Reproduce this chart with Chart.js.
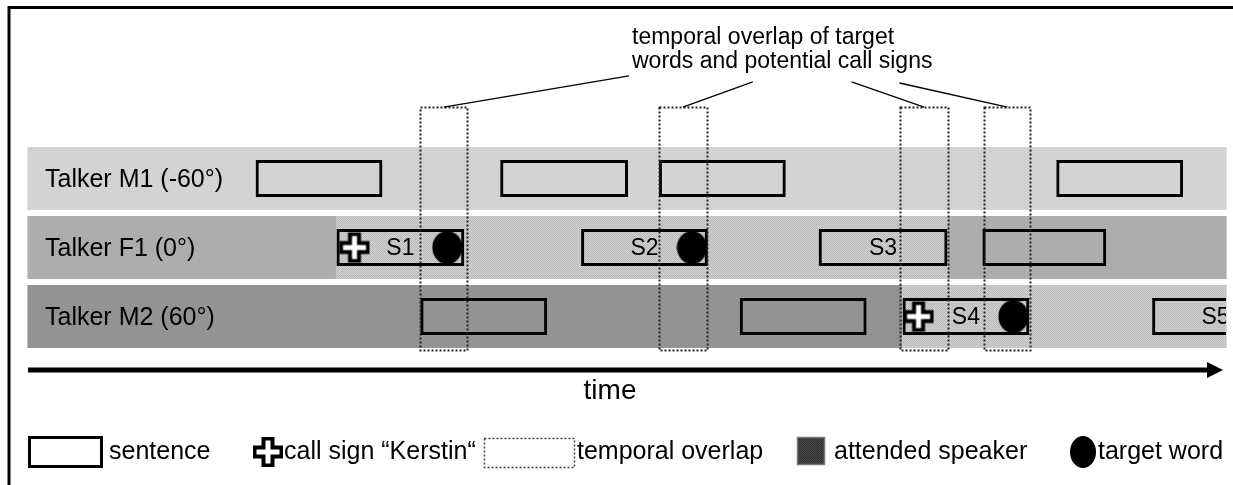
<!DOCTYPE html>
<html>
<head>
<meta charset="utf-8">
<script src="https://cdn.jsdelivr.net/npm/chart.js@4.4.1/dist/chart.umd.min.js"></script>
<style>
html,body{margin:0;padding:0;background:#fff;}
#wrap{position:relative;width:1233px;height:485px;}
</style>
</head>
<body>
<div id="wrap"><canvas id="c"></canvas></div>
<script>
// ---------------- data (time in seconds, rows 0..2) ----------------
const talkers = ['Talker M1 (-60°)', 'Talker F1 (0°)', 'Talker M2 (60°)'];
const timeMax = 12;

// background bands per talker (attended = being listened to)
const bandRow      = [0, 1, 1, 1, 2, 2];
const bandStart    = [0, 0, 3.09, 9.22, 0, 8.76];
const bandEnd      = [12, 3.09, 9.22, 12, 8.76, 12];
const bandAttended = [false, false, true, false, false, true];

// sentences
const sentenceRow   = [0, 0, 0, 0, 1, 1, 1, 1, 2, 2, 2, 2];
const sentenceStart = [2.28, 4.73, 6.32, 10.30, 3.09, 5.54, 7.92, 9.56, 3.93, 7.13, 8.76, 11.26];
const sentenceEnd   = [3.55, 6.01, 7.59, 11.57, 4.37, 6.81, 9.21, 10.80, 5.20, 8.40, 10.03, 12.53];
const sentenceLabel = ['', '', '', '', 'S1', 'S2', 'S3', '', '', '', 'S4', 'S5'];

// call signs "Kerstin"
const callSignTime = [3.27, 8.92];
const callSignRow  = [1, 2];

// target words
const targetTime = [4.20, 6.65, 9.87];
const targetRow  = [1, 1, 2];

// temporal overlap windows
const overlapStart = [3.93, 6.32, 8.73, 9.58];
const overlapEnd   = [4.40, 6.80, 9.22, 10.04];

const annotationText = ['temporal overlap of target', 'words and potential call signs'];
const axisLabel = 'time';
const legendLabels = ['sentence', 'call sign \u201CKerstin\u201C', 'temporal overlap', 'attended speaker', 'target word'];

// ---------------- styles ----------------
const FONT = '"Liberation Sans", Arial, Helvetica, sans-serif';
const rowColors = ['#d3d3d3', '#adadad', '#939393'];

function makePattern(c1, c2) {
  const cv = document.createElement('canvas');
  cv.width = 2; cv.height = 2;
  const g = cv.getContext('2d');
  g.fillStyle = c1; g.fillRect(0, 0, 2, 2);
  g.fillStyle = c2; g.fillRect(0, 0, 1, 1); g.fillRect(1, 1, 1, 1);
  return g.createPattern(cv, 'repeat');
}
const attendedPattern = makePattern('#cfcfcf', '#bcbcbc');
const legendPattern = makePattern('#4a4a4a', '#2e2e2e');

function crossPath(g, cx, cy, a, h) {
  g.beginPath();
  g.moveTo(cx - a, cy - h); g.lineTo(cx + a, cy - h); g.lineTo(cx + a, cy - a);
  g.lineTo(cx + h, cy - a); g.lineTo(cx + h, cy + a); g.lineTo(cx + a, cy + a);
  g.lineTo(cx + a, cy + h); g.lineTo(cx - a, cy + h); g.lineTo(cx - a, cy + a);
  g.lineTo(cx - h, cy + a); g.lineTo(cx - h, cy - a); g.lineTo(cx - a, cy - a);
  g.closePath();
}
function drawCross(g, cx, cy) {
  crossPath(g, cx, cy, 6.5, 15);
  g.fillStyle = '#000'; g.fill();
  crossPath(g, cx, cy, 2.5, 11.5);
  g.fillStyle = '#fff'; g.fill();
}
function makeCrossCanvas() {
  const cv = document.createElement('canvas');
  cv.width = 32; cv.height = 32;
  drawCross(cv.getContext('2d'), 16, 16);
  return cv;
}
function makeDotCanvas(w, h) {
  const cv = document.createElement('canvas');
  cv.width = w; cv.height = h;
  const g = cv.getContext('2d');
  g.beginPath(); g.ellipse(w / 2, h / 2, w / 2 - 0.5, h / 2 - 0.5, 0, 0, Math.PI * 2);
  g.fillStyle = '#000'; g.fill();
  return cv;
}
const crossImg = makeCrossCanvas();
const dotImg = makeDotCanvas(31, 34);

// ---------------- plugin for the non-data decoration ----------------
const diagramPlugin = {
  id: 'diagram',
  afterDatasetsDraw(chart, args, o) {
    const ctx = chart.ctx;
    const xs = chart.scales.x, ys = chart.scales.y;
    const X = v => xs.getPixelForValue(v);
    const Y = v => ys.getPixelForValue(v);

    // frame
    ctx.save();
    ctx.strokeStyle = '#000'; ctx.lineWidth = 3;
    ctx.beginPath();
    ctx.moveTo(9, chart.height); ctx.lineTo(9, 7.5); ctx.lineTo(chart.width, 7.5);
    ctx.stroke();
    ctx.restore();

    // talker labels
    ctx.save();
    ctx.font = '25px ' + FONT; ctx.fillStyle = '#000';
    ctx.textAlign = 'left'; ctx.textBaseline = 'middle';
    talkers.forEach((t, i) => ctx.fillText(t, X(0) + o.rowLabelInset, Y(i) + 2));
    ctx.restore();

    // sentence labels (clipped to band end)
    ctx.save();
    ctx.beginPath(); ctx.rect(0, 0, X(timeMax), chart.height); ctx.clip();
    ctx.font = '23px ' + FONT; ctx.fillStyle = '#000';
    ctx.textAlign = 'center'; ctx.textBaseline = 'middle';
    sentenceLabel.forEach((l, i) => {
      if (l) ctx.fillText(l, X((sentenceStart[i] + sentenceEnd[i]) / 2), Y(sentenceRow[i]) + 1);
    });
    ctx.restore();

    // temporal overlap windows (dotted)
    ctx.save();
    ctx.strokeStyle = '#222'; ctx.lineWidth = 2; ctx.setLineDash([2, 2]);
    overlapStart.forEach((s, i) => {
      const x0 = Math.round(X(s)) + 0.5, x1 = Math.round(X(overlapEnd[i])) + 0.5;
      const y0 = Math.round(Y(o.overlapTop)) + 0.5, y1 = Math.round(Y(o.overlapBottom)) + 0.5;
      ctx.strokeRect(x0, y0, x1 - x0, y1 - y0);
    });
    ctx.restore();

    // leader lines to annotation
    ctx.save();
    ctx.strokeStyle = '#000'; ctx.lineWidth = 1.3;
    overlapStart.forEach((s, i) => {
      const a = o.leaderEnds[i];
      ctx.beginPath();
      ctx.moveTo(X((s + overlapEnd[i]) / 2), Y(o.overlapTop));
      ctx.lineTo(X(a[0]), Y(a[1]));
      ctx.stroke();
    });
    ctx.restore();

    // annotation text
    ctx.save();
    ctx.font = '23px ' + FONT; ctx.fillStyle = '#000';
    ctx.textAlign = 'left'; ctx.textBaseline = 'alphabetic';
    annotationText.forEach((t, i) => ctx.fillText(t, X(o.annotationX), Y(o.annotationY[i])));
    ctx.restore();

    // time axis arrow
    ctx.save();
    const ay = Y(o.arrowY);
    const tip = X(o.arrowTip);
    ctx.strokeStyle = '#000'; ctx.fillStyle = '#000'; ctx.lineWidth = 5;
    ctx.beginPath(); ctx.moveTo(X(0), ay); ctx.lineTo(tip - 14, ay); ctx.stroke();
    ctx.beginPath(); ctx.moveTo(tip, ay); ctx.lineTo(tip - 16, ay - 8); ctx.lineTo(tip - 16, ay + 8); ctx.closePath(); ctx.fill();
    ctx.font = '28px ' + FONT; ctx.textAlign = 'center'; ctx.textBaseline = 'alphabetic';
    ctx.fillText(axisLabel, X(o.axisLabelX), Y(o.axisLabelY));
    ctx.restore();

    // legend
    ctx.save();
    const ly = o.legendY;
    ctx.font = '25px ' + FONT; ctx.fillStyle = '#000';
    ctx.textAlign = 'left'; ctx.textBaseline = 'middle';
    ctx.strokeStyle = '#000'; ctx.lineWidth = 3;
    ctx.strokeRect(29.5, ly - 14.5, 72, 29);
    ctx.fillText(legendLabels[0], 109, ly);
    drawCross(ctx, 268, ly);
    ctx.fillStyle = '#000';
    ctx.fillText(legendLabels[1], 284, ly);
    ctx.strokeStyle = '#444'; ctx.lineWidth = 1.5; ctx.setLineDash([2, 2]);
    ctx.strokeRect(484.5, ly - 13.5, 90, 29);
    ctx.setLineDash([]);
    ctx.fillText(legendLabels[2], 577, ly);
    ctx.fillStyle = legendPattern; ctx.fillRect(797, ly - 15, 28, 28);
    ctx.strokeStyle = '#777'; ctx.lineWidth = 1.5; ctx.strokeRect(797.5, ly - 14.5, 27, 27);
    ctx.fillStyle = '#000';
    ctx.fillText(legendLabels[3], 834, ly);
    ctx.beginPath(); ctx.ellipse(1083, ly, 13, 16, 0, 0, Math.PI * 2); ctx.fill();
    ctx.fillText(legendLabels[4], 1098, ly);
    ctx.restore();
  }
};

// ---------------- chart ----------------
const bandData = bandRow.map((r, i) => ({ x: [bandStart[i], bandEnd[i]], y: r }));
const bandColors = bandRow.map((r, i) => bandAttended[i] ? attendedPattern : rowColors[r]);
const sentenceData = sentenceRow.map((r, i) => ({ x: [sentenceStart[i], sentenceEnd[i]], y: r }));
const callSignData = callSignTime.map((t, i) => ({ x: t, y: callSignRow[i] }));
const targetData = targetTime.map((t, i) => ({ x: t, y: targetRow[i] }));

new Chart(document.getElementById('c'), {
  type: 'bar',
  data: {
    datasets: [
      {
        label: 'talker bands', type: 'bar', indexAxis: 'y', data: bandData,
        backgroundColor: bandColors, borderWidth: 0, barThickness: 62,
        grouped: false, order: 10, inflateAmount: 0.6
      },
      {
        label: 'sentence', type: 'bar', indexAxis: 'y', data: sentenceData,
        backgroundColor: 'rgba(0,0,0,0)', borderColor: '#000', borderWidth: 3,
        borderSkipped: false, barThickness: 37, grouped: false, order: 5, inflateAmount: 0,
        clip: { left: false, top: false, right: -7, bottom: false }
      },
      {
        label: 'call sign', type: 'scatter', data: callSignData,
        pointStyle: crossImg, pointRadius: 10, order: 1, clip: false
      },
      {
        label: 'target word', type: 'scatter', data: targetData,
        pointStyle: dotImg, pointRadius: 10, order: 1, clip: false
      }
    ]
  },
  options: {
    responsive: true, maintainAspectRatio: false, animation: false,
    events: [], devicePixelRatio: 1,
    layout: { padding: 0, autoPadding: false },
    plugins: {
      legend: { display: false }, tooltip: { enabled: false },
      diagram: {
        rowLabelInset: 17,
        overlapTop: -1.036, overlapBottom: 2.486,
        leaderEnds: [[6.02, -1.486], [7.26, -1.399], [8.25, -1.399], [8.73, -1.384]],
        annotationX: 6.05, annotationY: [-1.949, -1.601],
        arrowY: 2.775, arrowTip: 11.97,
        axisLabelX: 5.83, axisLabelY: 3.2,
        legendY: 452
      }
    },
    scales: {
      x: { type: 'linear', min: -0.2805, max: 12.0701, display: false, offset: false },
      y: { type: 'linear', min: -2.587, max: 4.442, reverse: true, display: false, offset: false }
    }
  },
  plugins: [diagramPlugin]
});
</script>
</body>
</html>
